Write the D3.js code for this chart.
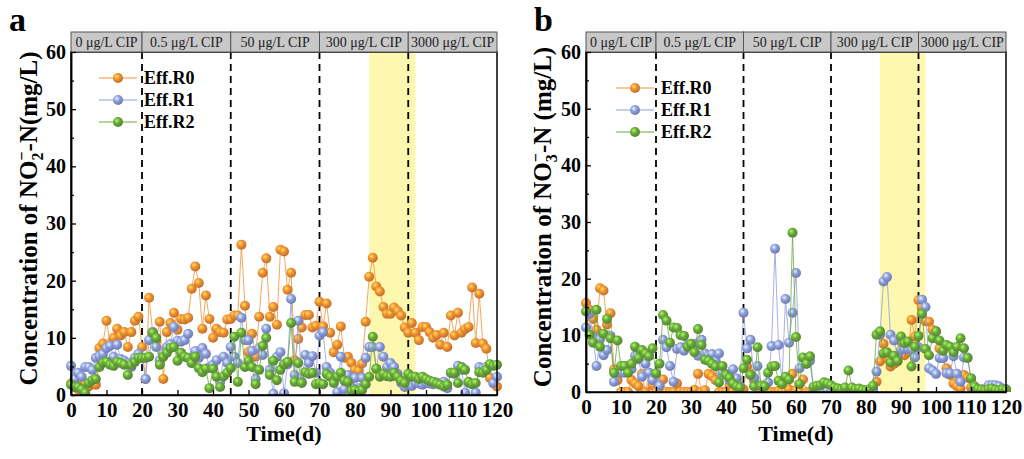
<!DOCTYPE html>
<meta charset="utf-8">
<head>
  <title>NO2- and NO3- effluent</title>
</head>
<style>
body { margin: 0; background: #fff; }
svg { font-family: "Liberation Serif", "Times New Roman", serif; }
</style>
<body>
<svg width="1024" height="459"></svg>
<script src="https://cdn.jsdelivr.net/npm/d3@7/dist/d3.min.js"></script>
<script>

var days = d3.range(0, 121)
var phases = ["0 μg/L CIP", "0.5 μg/L CIP", "50 μg/L CIP", "300 μg/L CIP", "3000 μg/L CIP"]
var phaseBreaks = [0, 20, 45, 70, 95, 120]
var yellowBand = [84, 97]
var seriesNames = ["Eff.R0", "Eff.R1", "Eff.R2"]
var colors = ["#f39035", "#8d9ddf", "#6aa93c"]
var xTicks = d3.range(0, 121, 10)
var yTicks = d3.range(0, 61, 10)
var yMinor = d3.range(5, 60, 10)

// panel a : NO2--N
var no2R0 = [2.0,1.5,1.0,2.5,2.0,1.5,2.0,1.8,8.2,9.0,
  13.0,9.0,10.0,11.6,10.4,11.0,8.4,11.0,13.0,13.7,
  8.4,2.8,17.0,11.0,9.5,12.8,2.8,11.0,12.6,14.4,
  11.4,13.3,13.2,13.5,18.6,22.5,19.6,11.6,17.4,13.3,
  10.0,11.6,11.0,10.9,13.2,13.3,13.9,13.9,26.3,15.6,
  7.5,10.7,6.7,13.7,21.4,23.9,13.7,15.4,12.3,25.4,
  25.1,18.4,21.4,6.1,9.8,11.8,14.0,14.0,11.8,12.1,
  16.3,12.0,16.0,10.9,7.5,8.8,12.0,6.5,6.7,5.6,
  4.4,4.2,5.5,12.8,20.7,24.0,19.0,18.1,15.4,14.2,
  14.2,15.3,14.7,13.9,11.8,10.9,12.6,10.9,9.6,11.9,
  11.9,11.0,10.0,10.5,8.8,10.9,8.4,13.9,10.4,14.4,
  10.9,11.5,11.9,18.8,9.1,17.7,9.0,8.1,3.0,2.0,1.5]
var no2R1 = [5.1,2.8,3.9,3.2,4.9,4.9,4.4,6.5,6.8,7.2,
  8.2,8.6,6.7,8.8,6.3,6.0,5.6,4.9,6.5,7.2,
  6.5,2.8,9.6,11.0,8.4,6.1,7.2,8.4,8.9,11.9,
  9.5,9.3,9.6,10.7,5.6,7.7,6.5,8.2,7.2,4.9,
  5.3,6.1,2.3,6.7,5.6,8.4,6.7,5.6,13.5,9.6,
  9.6,7.7,2.8,8.2,7.0,11.6,4.4,0.2,6.7,7.5,
  0.3,5.4,16.8,3.5,13.0,2.3,7.0,5.6,6.8,3.9,
  10.4,11.0,4.9,3.9,3.2,0.5,6.7,1.0,3.5,1.4,
  3.0,1.2,3.0,6.5,8.4,8.4,4.6,8.4,6.7,4.9,
  5.6,4.9,3.7,2.1,1.4,1.9,1.6,2.1,2.0,1.8,
  2.1,2.0,1.9,2.2,1.9,2.3,1.2,3.9,3.7,5.1,
  4.4,0.4,2.1,1.9,0.4,4.9,4.7,4.9,5.3,2.1,3.2]
var no2R2 = [1.8,1.4,1.4,1.0,0.4,2.1,2.6,2.8,4.9,5.6,
  5.8,5.3,5.1,5.8,5.6,5.3,3.5,5.3,5.8,6.5,
  6.5,6.5,6.7,10.9,10.0,5.3,6.7,7.4,8.2,8.4,
  6.0,7.4,6.7,6.5,5.6,6.7,4.7,4.0,4.6,1.2,
  4.6,3.2,1.4,3.3,3.9,4.7,10.2,2.3,10.9,4.9,
  6.0,4.9,1.9,4.4,8.6,10.0,3.5,6.0,2.6,4.4,
  5.4,5.8,12.6,2.3,5.6,2.1,4.0,3.7,3.9,1.9,
  2.1,1.9,3.7,3.2,2.1,3.2,3.9,2.5,2.3,0.7,
  0.9,0.7,0.9,1.9,3.2,10.2,4.6,3.2,3.7,3.3,
  3.2,3.9,3.2,2.5,2.1,3.7,3.2,3.2,2.8,3.2,
  2.8,2.5,2.3,2.0,1.8,1.5,1.8,3.9,3.9,2.1,
  4.9,4.4,2.3,1.9,2.1,4.0,3.9,4.4,5.4,5.1,5.3]

// panel b : NO3--N
var no3R0 = [15.7,14.5,12.9,11.0,18.3,17.9,11.9,13.9,4.0,2.1,
  0,0,0,2.1,1.5,1.0,3.2,0,3.4,1.2,
  0,0.2,2.2,0,0,0,1.5,0,0,0,
  0,0.4,3.2,0,0.3,3.2,2.8,2.1,0,0,
  0,1.2,0,0,0,0.5,4.5,3.2,2.0,1.0,
  0.3,0,0,0,0,0.2,0,0,0.5,3.2,
  0.3,0,2.2,0,0,0.2,0,0,0,0,
  0.2,0,0,0.3,0,0,0.5,0,0,0.3,
  0,0.2,0.5,1.8,5.4,8.5,6.0,4.5,5.0,5.4,
  8.9,6.5,7.0,12.7,9.8,16.2,15.0,12.5,12.4,11.0,
  10.7,7.7,6.0,4.2,3.0,1.5,1.0,0.6,3.0,2.5,
  0.8,0.5,0.3,0.5,0.4,0.6,0.8,0.5,0.4,0.3,0.5]
var no3R1 = [11.4,13.8,9.8,4.6,9.3,6.5,7.4,9.9,1.8,3.4,
  3.4,3.4,4.6,4.0,6.4,5.8,2.7,5.0,3.4,2.1,
  3.2,1.1,9.2,7.9,4.6,1.8,7.6,7.9,7.3,8.3,
  8.3,8.5,6.4,9.2,6.8,6.4,6.7,5.4,6.8,3.4,
  3.2,2.1,4.0,2.4,1.0,14.0,7.7,9.2,2.5,4.6,
  1.1,1.2,1.7,8.1,25.3,8.3,1.8,16.4,8.7,14.0,
  21.0,4.2,6.0,5.0,5.5,0.2,0.2,0.2,0.2,0.2,
  0.2,0.2,0.2,0.2,0.2,0.2,0.2,0.2,0.2,0.2,
  0.2,0.2,0.3,3.6,10.1,19.5,20.3,10.1,9.1,6.3,
  7.4,7.6,7.6,7.4,6.1,7.9,16.3,15.0,4.2,3.8,
  3.2,6.0,6.0,3.3,3.3,6.3,3.2,1.8,6.1,6.1,
  2.4,0.6,0.2,0.2,0.5,1.2,1.2,1.2,1.0,0.6,0.5]
var no3R2 = [14.2,10.1,8.7,14.5,8.0,10.3,12.9,9.5,3.4,9.1,
  4.6,4.6,3.4,5.0,8.0,6.0,7.4,6.8,6.3,7.7,
  3.3,5.0,13.6,12.6,8.7,11.4,11.3,10.0,9.9,8.0,
  8.5,7.0,11.1,8.3,5.7,5.5,5.0,4.5,1.7,4.6,
  3.0,2.5,1.5,1.0,0.8,4.2,5.7,3.0,1.0,7.9,
  1.1,1.0,3.4,4.5,4.6,2.0,1.4,2.7,2.2,28.1,
  9.7,1.4,6.1,5.0,6.3,0.9,1.1,1.2,1.7,1.5,
  1.2,0.8,0.6,0.5,0.8,3.8,0.8,0.5,0.6,0.4,
  0.3,0.5,1.1,10.1,10.7,6.8,7.0,5.2,6.4,5.5,
  9.8,8.6,8.9,4.5,8.0,9.9,13.8,7.6,6.5,9.5,
  10.7,9.1,7.3,8.3,8.0,7.0,8.0,9.5,7.7,6.0,
  2.4,1.0,0.5,0.4,0.3,0.5,0.6,0.4,0.3,0.5,0.4]

var svg = d3.select("svg")

// shaded ball markers
var defs = svg.append("defs")
colors.forEach(function(c, i) {
  var grad = defs.append("radialGradient").attr("id", "ball" + i)
    .attr("cx", "38%").attr("cy", "35%").attr("r", "65%")
  grad.append("stop").attr("offset", "0%").attr("stop-color", d3.color(c).brighter(1.3))
  grad.append("stop").attr("offset", "45%").attr("stop-color", c)
  grad.append("stop").attr("offset", "100%").attr("stop-color", d3.color(c).darker(0.7))
})

function drawPanel(opt) {
  var g = svg.append("g")
  var x = d3.scaleLinear().domain([0, 120]).range([opt.left, opt.right])
  var y = d3.scaleLinear().domain([0, 60]).range([opt.bottom, opt.top])

  // clip only at the bottom (markers at 0 sit half under the axis)
  defs.append("clipPath").attr("id", "clip" + opt.letter)
    .append("rect").attr("x", opt.left - 8).attr("y", opt.top)
    .attr("width", opt.right - opt.left + 16).attr("height", opt.bottom - opt.top)

  g.append("rect")
    .attr("x", x(yellowBand[0])).attr("y", opt.top)
    .attr("width", x(yellowBand[1]) - x(yellowBand[0]))
    .attr("height", opt.bottom - opt.top)
    .attr("fill", "#fdf8ae")

  g.selectAll(".phase").data(phaseBreaks.slice(1, -1)).enter()
    .append("line")
    .attr("x1", d => x(d)).attr("x2", d => x(d))
    .attr("y1", opt.top).attr("y2", opt.bottom)
    .attr("stroke", "#000").attr("stroke-width", 1.8)
    .attr("stroke-dasharray", "7,5")

  var line = d3.line().x(d => x(d[0])).y(d => y(d[1]))
  var plot = g.append("g").attr("clip-path", "url(#clip" + opt.letter + ")")
  opt.series.forEach(function(vals, i) {
    var pts = days.map((d, j) => [d, vals[j]])
    var sg = plot.append("g")
    sg.append("path").datum(pts).attr("d", line)
      .attr("fill", "none").attr("stroke", colors[i]).attr("stroke-width", 0.8)
    sg.selectAll("circle").data(pts).enter().append("circle")
      .attr("cx", d => x(d[0])).attr("cy", d => y(d[1]))
      .attr("r", 5).attr("fill", "url(#ball" + i + ")")
  })

  // frame
  g.append("rect")
    .attr("x", opt.left).attr("y", opt.top)
    .attr("width", opt.right - opt.left).attr("height", opt.bottom - opt.top)
    .attr("fill", "none").attr("stroke", "#000").attr("stroke-width", 1.5)

  // header with CIP phases
  var hdr = g.selectAll(".hdr").data(phases).enter().append("g")
  hdr.append("rect")
    .attr("x", (d, i) => x(phaseBreaks[i])).attr("y", opt.top - 20)
    .attr("width", (d, i) => x(phaseBreaks[i + 1]) - x(phaseBreaks[i]))
    .attr("height", 20)
    .attr("fill", "#c8c8c8").attr("stroke", "#555").attr("stroke-width", 1)
  hdr.append("text")
    .attr("x", (d, i) => (x(phaseBreaks[i]) + x(phaseBreaks[i + 1])) / 2)
    .attr("y", opt.top - 5)
    .attr("text-anchor", "middle").attr("font-size", 14).attr("fill", "#222")
    .text(d => d)

  // axes
  var ya = g.append("g").attr("transform", "translate(" + opt.left + ",0)")
    .call(d3.axisLeft(y).tickValues(yTicks).tickSize(-5).tickSizeOuter(0).tickPadding(5))
  g.append("g").attr("transform", "translate(" + opt.left + ",0)")
    .call(d3.axisLeft(y).tickValues(yMinor).tickSize(-3).tickSizeOuter(0).tickFormat(""))
  var xa = g.append("g").attr("transform", "translate(0," + opt.bottom + ")")
    .call(d3.axisBottom(x).tickValues(xTicks).tickSize(-5).tickSizeOuter(0))
  g.selectAll(".domain").attr("stroke-width", 1.5)
  g.selectAll(".tick line").attr("stroke-width", 1.3)
  ya.selectAll("text").attr("font-size", 20).attr("font-weight", "bold")
    .attr("font-family", "Liberation Serif").attr("fill", "#000")
  xa.selectAll("text").attr("font-size", 21).attr("font-weight", "bold")
    .attr("font-family", "Liberation Serif").attr("fill", "#000")
    .attr("dy", null).attr("y", 22)

  // axis titles
  var yl = g.append("text")
    .attr("transform", "translate(" + opt.ylabelX + "," + ((opt.top + opt.bottom) / 2 - 5) + ") rotate(-90)")
    .attr("text-anchor", "middle").attr("font-size", 25).attr("font-weight", "bold")
  yl.append("tspan").text("Concentration of NO")
  yl.append("tspan").attr("font-size", 16).attr("dy", 6).text(opt.ion)
  yl.append("tspan").attr("font-size", 16).attr("dx", -8).attr("dy", -16).text("−")
  yl.append("tspan").attr("dy", 10).text(opt.unit)

  g.append("text")
    .attr("x", (opt.left + opt.right) / 2).attr("y", 441)
    .attr("text-anchor", "middle").attr("font-size", 22).attr("font-weight", "bold")
    .text("Time(d)")

  g.append("text")
    .attr("x", opt.letterX).attr("y", 31)
    .attr("font-size", 34).attr("font-weight", "bold")
    .text(opt.letter)

  // legend
  var lg = g.selectAll(".lg").data(seriesNames).enter().append("g")
    .attr("transform", (d, i) => "translate(" + opt.legX + "," + opt.legY[i] + ")")
  lg.append("line").attr("x1", -19).attr("x2", 19)
    .attr("stroke", (d, i) => colors[i]).attr("stroke-width", 1)
  lg.append("circle").attr("r", 5).attr("fill", (d, i) => "url(#ball" + i + ")")
  lg.append("text").attr("x", 26).attr("dy", "0.35em")
    .attr("font-size", 18).attr("font-weight", "bold").text(d => d)
}

drawPanel({
  left: 71, right: 497, top: 52, bottom: 395,
  series: [no2R0, no2R1, no2R2],
  ion: "2", unit: "-N(mg/L)", ylabelX: 37,
  letter: "a", letterX: 9,
  legX: 118, legY: [78, 100, 122]
})
drawPanel({
  left: 586, right: 1006, top: 52, bottom: 392,
  series: [no3R0, no3R1, no3R2],
  ion: "3", unit: "-N (mg/L)", ylabelX: 551,
  letter: "b", letterX: 534,
  legX: 635, legY: [88, 110, 132]
})

</script>
</body>
</html>
